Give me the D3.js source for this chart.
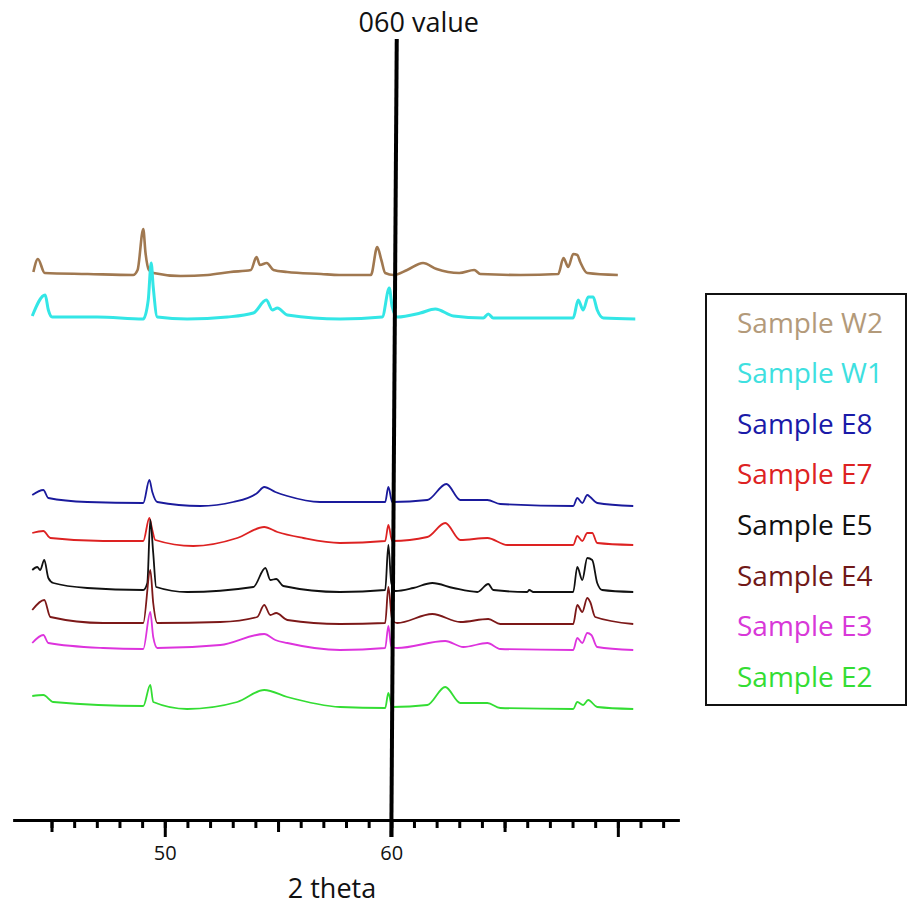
<!DOCTYPE html>
<html>
<head>
<meta charset="utf-8">
<script src="https://cdn.jsdelivr.net/npm/d3@7"></script>
<style>
  body { margin: 0; background: #fff; }
  text { font-family: "Open Sans", sans-serif; }
</style>
</head>
<body>
<div id="chart"></div>
<script>
// diffraction traces, [2 theta, intensity (a.u., stacked offset included)]
var sampleW2 = [[44.2,548],[44.4,561],[44.7,547],[46.6,546],[48.6,545],[48.8,550],[49.05,591],[49.15,567],[49.3,550],[49.5,547],
  [50.7,544],[51.9,545],[52.9,548],[53.8,550],[54.05,563],[54.2,555],[54.5,557],[54.8,550],[55.4,548],[56.9,546],[57.7,545],
  [59.1,545],[59.38,573],[59.56,560],[59.73,547],[60.1,545],[60.7,550],[61.4,557],[62.0,551],[63.0,547],[63.66,550],[63.93,546],
  [65.7,545],[67.37,546],[67.6,562],[67.81,553],[68.03,566],[68.21,565],[68.34,558],[68.65,547],[70.0,545]];
var sampleW1 = [[44.15,504],[44.72,525],[44.86,510],[45.03,503],[47.02,503],[49.05,501],[49.27,520],[49.4,557],[49.49,533],[49.67,503],
  [50.99,501],[52.76,503],[53.91,507],[54.48,520],[54.75,510],[54.97,512],[55.41,505],[57.74,501],[59.6,503],[59.91,532],[60.04,513],
  [60.26,503],[61.28,507],[61.94,511],[62.74,504],[64.06,502],[64.28,506],[64.5,502],[66.14,502],[68.03,502],[68.25,520],[68.47,510],
  [68.69,523],[68.91,523],[69.09,510],[69.36,502],[70.77,501]];
var sampleE8 = [[44.15,325],[44.64,330],[44.86,322],[46.58,318],[49.05,317],[49.32,340],[49.45,328],[49.67,318],[51.57,314],[53.02,318],
  [54.08,327],[54.39,333],[54.88,328],[55.41,324],[56.86,318],[59.73,318],[59.87,333],[60.04,318],[61.59,320],[62.43,336],[63.05,320],
  [64.24,320],[64.81,316],[68.03,314],[68.21,322],[68.43,317],[68.65,325],[68.78,323],[69.09,317],[70.68,314]];
var sampleE7 = [[44.15,287],[44.64,289],[44.95,282],[47.28,279],[49.05,279],[49.32,302],[49.45,290],[49.58,280],[51.26,274],[53.2,282],
  [54.39,293],[54.97,288],[56.11,282],[57.74,277],[59.73,279],[59.87,295],[60.04,279],[61.59,283],[62.38,297],[63.05,280],[64.24,282],
  [65.12,275],[68.03,275],[68.21,284],[68.43,279],[68.65,287],[68.87,287],[69.09,277],[70.68,275]];
var sampleE5 = [[44.15,250],[44.37,253],[44.5,250],[44.68,260],[44.86,242],[45.08,237],[46.58,232],[49.05,230],[49.23,237],[49.36,300],
  [49.49,267],[49.62,233],[50.99,228],[53.91,233],[54.44,252],[54.66,240],[54.92,241],[55.23,234],[57.74,228],[59.73,230],[59.87,275],
  [60.0,237],[60.18,229],[60.97,232],[61.81,237],[62.74,232],[63.8,228],[64.28,236],[64.5,230],[66.0,228],[66.09,230],[66.27,228],
  [68.03,228],[68.21,253],[68.43,240],[68.65,262],[68.87,260],[69.09,237],[69.31,230],[70.68,228]];
var sampleE4 = [[44.15,210],[44.68,220],[44.95,203],[47.28,197],[49.05,197],[49.36,250],[49.49,217],[49.67,197],[52.45,198],[54.08,203],
  [54.39,215],[54.66,205],[54.92,207],[55.41,200],[57.74,196],[59.73,197],[59.87,233],[60.04,200],[60.26,197],[61.81,206],[63.05,198],
  [64.28,201],[64.81,196],[68.03,196],[68.21,215],[68.43,208],[68.65,222],[68.78,218],[69.0,203],[70.68,196]];
var sampleE3 = [[44.15,177],[44.64,185],[44.86,177],[47.28,172],[49.05,171],[49.36,208],[49.49,183],[49.67,172],[52.45,175],[54.39,186],
  [54.88,180],[55.41,177],[57.74,170],[59.73,172],[59.87,194],[60.0,173],[60.26,172],[62.38,179],[63.18,173],[64.24,177],[64.81,171],
  [68.03,170],[68.21,182],[68.43,177],[68.65,187],[68.83,185],[69.09,173],[70.68,170]];
var sampleE2 = [[44.15,124],[44.64,125],[45.08,118],[49.05,114],[49.36,135],[49.49,118],[50.99,111],[53.2,118],[54.39,130],[55.41,123],
  [57.74,113],[59.73,112],[59.87,127],[60.04,113],[61.59,115],[62.38,133],[63.05,117],[64.24,117],[64.81,112],[68.03,111],[68.21,118],
  [68.47,115],[68.69,120],[69.09,113],[70.68,111]];

var sampleNames = ["Sample W2", "Sample W1", "Sample E8", "Sample E7", "Sample E5", "Sample E4", "Sample E3", "Sample E2"];
var sampleData = [sampleW2, sampleW1, sampleE8, sampleE7, sampleE5, sampleE4, sampleE3, sampleE2];

var majorTicks = [50, 60, 70];
var mediumTicks = [45, 55, 65];
var minorTicks = d3.range(45, 73);
var labelledTicks = [50, 60];
var markerValue = 60;      // the "060 value" line
var markerTop = 60.24;     // line leans a little at the top

// styles
var lineColors = ["#a07850", "#33e6e6", "#1a1a9c", "#dd2222", "#111111", "#7c1818", "#dd33dd", "#33dd33"];
var textColors = ["#b39a7a", "#3ee0e0", "#1a1aa8", "#dd2222", "#111111", "#701818", "#d838d8", "#33dd33"];
var lineWidths = [2.6, 3, 1.8, 1.8, 1.8, 1.8, 1.8, 1.8];

// set the dimensions and margins of the graph
var margin = {top: 20, right: 230, bottom: 93, left: 13},
    width = 909 - margin.left - margin.right,
    height = 913 - margin.top - margin.bottom;

var svg = d3.select("#chart")
  .append("svg")
    .attr("width", 909)
    .attr("height", 913)
  .append("g")
    .attr("transform", "translate(" + margin.left + "," + margin.top + ")");

var x = d3.scaleLinear()
  .domain([43.3, 72.7])
  .range([0, width]);

var y = d3.scaleLinear()
  .domain([0, 800])
  .range([height, 0]);

// traces
var line = d3.line()
  .x(function(d) { return x(d[0]); })
  .y(function(d) { return y(d[1]); })
  .curve(d3.curveMonotoneX);

svg.append("g")
  .selectAll("path")
  .data(sampleData)
  .enter().append("path")
    .attr("fill", "none")
    .attr("stroke", function(d, i) { return lineColors[i]; })
    .attr("stroke-width", function(d, i) { return lineWidths[i]; })
    .attr("stroke-linejoin", "round")
    .attr("d", line);

// X axis: minor, medium and major ticks
function styleAxis(g) {
  g.select(".domain").attr("stroke", "#000").attr("stroke-width", 3);
  g.selectAll(".tick line").attr("stroke", "#000").attr("stroke-width", 3);
}

svg.append("g")
  .attr("transform", "translate(0," + height + ")")
  .call(d3.axisBottom(x).tickValues(minorTicks).tickSize(8).tickSizeOuter(0).tickFormat(""))
  .call(styleAxis);

svg.append("g")
  .attr("transform", "translate(0," + height + ")")
  .call(d3.axisBottom(x).tickValues(mediumTicks).tickSize(12).tickSizeOuter(0).tickFormat(""))
  .call(styleAxis);

svg.append("g")
  .attr("transform", "translate(0," + height + ")")
  .call(d3.axisBottom(x).tickValues(majorTicks).tickSize(17).tickSizeOuter(0).tickPadding(9)
    .tickFormat(function(d) { return labelledTicks.indexOf(d) >= 0 ? d : ""; }))
  .call(styleAxis)
  .call(function(g) {
    g.selectAll(".tick text")
      .attr("font-family", "'Open Sans', sans-serif")
      .attr("font-size", 20)
      .attr("fill", "#111");
  });

// 060 line
svg.append("line")
  .attr("x1", x(markerTop))
  .attr("y1", 39 - margin.top)
  .attr("x2", x(markerValue))
  .attr("y2", height + 17)
  .attr("stroke", "#000")
  .attr("stroke-width", 4);

svg.append("text")
  .attr("x", x(markerTop) + 22)
  .attr("y", 32 - margin.top)
  .attr("text-anchor", "middle")
  .attr("font-size", 27)
  .attr("fill", "#111")
  .text("060 value");

svg.append("text")
  .attr("x", 332 - margin.left)
  .attr("y", 898 - margin.top)
  .attr("text-anchor", "middle")
  .attr("font-size", 27)
  .attr("fill", "#111")
  .text("2 theta");

// legend
var legend = svg.append("g")
  .attr("class", "legend")
  .attr("transform", "translate(" + (706 - margin.left) + "," + (294 - margin.top) + ")");

legend.append("rect")
  .attr("width", 200)
  .attr("height", 411)
  .attr("fill", "none")
  .attr("stroke", "#111")
  .attr("stroke-width", 2);

legend.selectAll("text")
  .data(sampleNames)
  .enter()
  .append("text")
    .attr("x", 31)
    .attr("y", function(d, i) { return 38.5 + i * 50.6; })
    .attr("font-size", 28)
    .attr("fill", function(d, i) { return textColors[i]; })
    .text(function(d) { return d; });
</script>
</body>
</html>
